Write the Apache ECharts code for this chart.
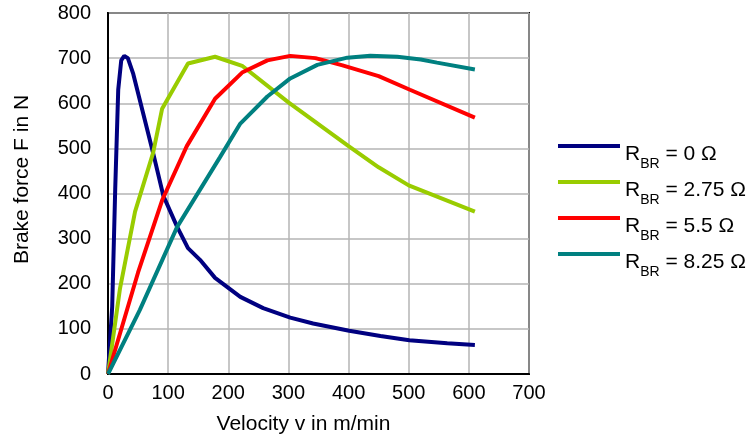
<!DOCTYPE html>
<html>
<head>
<meta charset="utf-8">
<script src="https://cdn.jsdelivr.net/npm/echarts@6/dist/echarts.min.js"></script>
<style>html,body{margin:0;padding:0;background:#fff}#c{width:754px;height:441px}</style>
</head>
<body>
<div id="c"></div>
<script>
// Velocity (m/min) and brake force (N) per series
const v0 = [0, 7, 12, 17, 22, 27, 33, 42, 58, 75, 92, 115, 133, 153, 178, 220, 258, 303, 341, 401, 453, 501, 564, 610];
const f0 = [0, 150, 410, 630, 695, 705, 700, 665, 580, 490, 395, 326, 279, 253, 213, 171, 146, 125, 112, 96, 84, 75, 68, 64];
const v1 = [0, 20, 45, 75, 90, 133, 178, 223, 300, 400, 450, 500, 610];
const f1 = [0, 190, 360, 490, 588, 688, 703, 683, 602, 505, 458, 418, 360];
const v2 = [0, 50, 90, 131, 178, 223, 265, 303, 345, 390, 450, 502, 610];
const f2 = [0, 225, 385, 505, 610, 668, 695, 705, 700, 684, 660, 630, 568];
const v3 = [0, 53, 115, 186, 220, 265, 303, 348, 398, 436, 481, 520, 547, 610];
const f3 = [0, 142, 326, 480, 555, 615, 655, 685, 701, 705, 703, 697, 690, 675];
const names = ['R_BR = 0 Ω', 'R_BR = 2.75 Ω', 'R_BR = 5.5 Ω', 'R_BR = 8.25 Ω'];
const legendTail = [' = 0 Ω', ' = 2.75 Ω', ' = 5.5 Ω', ' = 8.25 Ω'];
const colors = ['#000080', '#99cc00', '#ff0000', '#008080'];
const xTicks = [0, 100, 200, 300, 400, 500, 600, 700];
const yTicks = [0, 100, 200, 300, 400, 500, 600, 700, 800];

const FONT = '"Liberation Sans", Arial, sans-serif';
const zip = (a, b) => a.map((x, i) => [x, b[i]]);
const sets = [[v0, f0], [v1, f1], [v2, f2], [v3, f3]];

const chart = echarts.init(document.getElementById('c'), null, {renderer: 'canvas'});
chart.setOption({
  animation: false,
  backgroundColor: '#fff',
  textStyle: {fontFamily: FONT},
  grid: {left: 108, right: 225, top: 13, bottom: 67, show: true, borderColor: '#000', borderWidth: 2, containLabel: false},
  legend: {
    orient: 'vertical', left: 558, top: 135, padding: 0, itemWidth: 62, itemHeight: 4, itemGap: 0,
    icon: 'rect',
    data: names,
    formatter: function (n) {
      const i = names.indexOf(n);
      return '{r|R}{s|BR}{r|' + legendTail[i] + '}';
    },
    textStyle: {
      fontFamily: FONT, color: '#000',
      rich: {
        r: {fontSize: 21, lineHeight: 22, padding: [9, 0, 0, 0], verticalAlign: 'top', fontFamily: FONT, color: '#000'},
        s: {fontSize: 14, lineHeight: 14, padding: [22, 0, 0, 0], verticalAlign: 'top', fontFamily: FONT, color: '#000'}
      }
    }
  },
  xAxis: {
    type: 'value', min: xTicks[0], max: xTicks[xTicks.length - 1], interval: 100,
    name: 'Velocity v in m/min', nameLocation: 'middle', nameGap: 40,
    nameTextStyle: {fontSize: 21, color: '#000', fontFamily: FONT, padding: [0, 30, 0, 0]},
    axisLine: {show: true, lineStyle: {color: '#000', width: 2}},
    axisTick: {show: false},
    axisLabel: {fontSize: 20, color: '#000', margin: 9, fontFamily: FONT},
    splitLine: {show: true, lineStyle: {color: '#b4b4b4', width: 1.5}}
  },
  yAxis: {
    type: 'value', min: yTicks[0], max: yTicks[yTicks.length - 1], interval: 100,
    name: 'Brake force F in N', nameLocation: 'middle', nameGap: 75, nameRotate: 90,
    nameTextStyle: {fontSize: 21, color: '#000', fontFamily: FONT, padding: [0, 0, 0, 28]},
    axisLine: {show: true, lineStyle: {color: '#000', width: 2}},
    axisTick: {show: false},
    axisLabel: {fontSize: 20, color: '#000', margin: 17, fontFamily: FONT},
    splitLine: {show: true, lineStyle: {color: '#b4b4b4', width: 1.5}}
  },
  series: sets.map((s, i) => ({
    name: names[i], type: 'line', data: zip(s[0], s[1]),
    showSymbol: false, symbol: 'none', smooth: false,
    lineStyle: {color: colors[i], width: 4},
    itemStyle: {color: colors[i]},
    z: 3 + i
  }))
});
</script>
</body>
</html>
